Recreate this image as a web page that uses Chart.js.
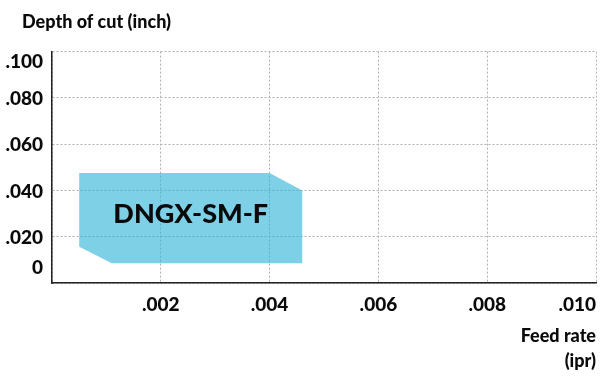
<!DOCTYPE html>
<html>
<head>
<meta charset="utf-8">
<script src="https://cdn.jsdelivr.net/npm/chart.js@4/dist/chart.umd.min.js"></script>
<style>
  html, body { margin: 0; padding: 0; background: #fff; }
  #wrap { width: 600px; height: 377px; }
</style>
</head>
<body>
<div id="wrap"><canvas id="chart"></canvas></div>
<script>
// insert outline (feed rate ipr, depth of cut inch), going round the shape
const feedRate = [0.0005, 0.0040, 0.0046, 0.0046, 0.0011, 0.0005, 0.0005];
const depthOfCut = [0.0475, 0.0475, 0.0400, 0.0085, 0.0085, 0.0157, 0.0475];
const regionLabel = "DNGX-SM-F";

const xTicks = [0.002, 0.004, 0.006, 0.008, 0.010];
const xTickLabels = [".002", ".004", ".006", ".008", ".010"];
const yTicks = [0, 0.02, 0.04, 0.06, 0.08, 0.10];
const yTickLabels = ["0", ".020", ".040", ".060", ".080", ".100"];

const FONT = "Lato, 'Liberation Sans', sans-serif";
const INK = "#0a0a0a";

function tickText(ticks, labels) {
  return function (value) {
    const i = ticks.findIndex(t => Math.abs(t - value) < 1e-9);
    return i >= 0 ? labels[i] : "";
  };
}

// y labels: end ones are pulled inside the axis like in the original
const yLabels = {
  id: "yLabels",
  afterDraw(chart) {
    const { ctx, scales: { y } } = chart;
    ctx.save();
    ctx.font = "900 19px " + FONT;
    ctx.fillStyle = INK;
    ctx.textAlign = "right";
    yTicks.forEach((v, i) => {
      let py = y.getPixelForValue(v);
      if (i === 0) { ctx.textBaseline = "bottom"; py -= 6; }
      else if (i === yTicks.length - 1) { ctx.textBaseline = "top"; py += 1; }
      else { ctx.textBaseline = "middle"; py += 1; }
      ctx.fillText(yTickLabels[i], y.right - 9, py);
    });
    ctx.restore();
  }
};

// grade name in the middle of the filled region
const regionText = {
  id: "regionText",
  afterDatasetsDraw(chart) {
    const { ctx, scales: { x, y } } = chart;
    const cx = (x.getPixelForValue(Math.min(...feedRate)) + x.getPixelForValue(Math.max(...feedRate))) / 2;
    const cy = (y.getPixelForValue(Math.min(...depthOfCut)) + y.getPixelForValue(Math.max(...depthOfCut))) / 2;
    ctx.save();
    ctx.font = "900 27px " + FONT;
    ctx.fillStyle = INK;
    ctx.textAlign = "center";
    ctx.textBaseline = "middle";
    ctx.fillText(regionLabel, cx, cy - 4);
    ctx.restore();
  }
};

new Chart(document.getElementById("chart"), {
  type: "scatter",
  data: {
    datasets: [{
      label: regionLabel,
      data: feedRate.map((f, i) => ({ x: f, y: depthOfCut[i] })),
      showLine: true,
      fill: "shape",
      backgroundColor: "rgba(38, 177, 213, 0.6)",
      borderWidth: 0,
      pointRadius: 0,
      tension: 0
    }]
  },
  options: {
    responsive: true,
    maintainAspectRatio: false,
    animation: false,
    layout: { padding: { left: 22, right: 4, top: 0, bottom: 0 } },
    plugins: {
      legend: { display: false },
      tooltip: { enabled: false },
      title: {
        display: true,
        text: "Depth of cut (inch)",
        align: "start",
        color: INK,
        font: { family: FONT, size: 18, weight: "900" },
        padding: { top: 11, bottom: 19 }
      }
    },
    scales: {
      x: {
        type: "linear",
        min: 0,
        max: 0.010,
        afterBuildTicks(scale) { scale.ticks = [0].concat(xTicks).map(v => ({ value: v })); },
        afterFit(scale) { scale.height = 94; scale.paddingLeft = 0; scale.paddingRight = 0; },
        grid: { color: "#b0b0b0", lineWidth: 1, drawTicks: false },
        border: { display: true, color: "#222", width: 1.5, dash: [2, 2] },
        ticks: {
          align: "inner",
          padding: 10,
          maxRotation: 0,
          autoSkip: false,
          color: INK,
          font: { family: FONT, size: 19, weight: "900" },
          callback: tickText(xTicks, xTickLabels)
        },
        title: {
          display: true,
          text: ["Feed rate", "(ipr)"],
          align: "end",
          color: INK,
          font: { family: FONT, size: 18, weight: "900", lineHeight: 1.35 },
          padding: { top: 10 }
        }
      },
      y: {
        type: "linear",
        min: 0,
        max: 0.10,
        afterBuildTicks(scale) { scale.ticks = yTicks.map(v => ({ value: v })); },
        afterFit(scale) { scale.width = 30; scale.paddingTop = 0; scale.paddingBottom = 0; },
        grid: { color: "#b0b0b0", lineWidth: 1, drawTicks: false },
        border: { display: true, color: "#222", width: 1.5, dash: [2, 2] },
        ticks: { display: false }
      }
    }
  },
  plugins: [regionText, yLabels]
});
</script>
</body>
</html>
